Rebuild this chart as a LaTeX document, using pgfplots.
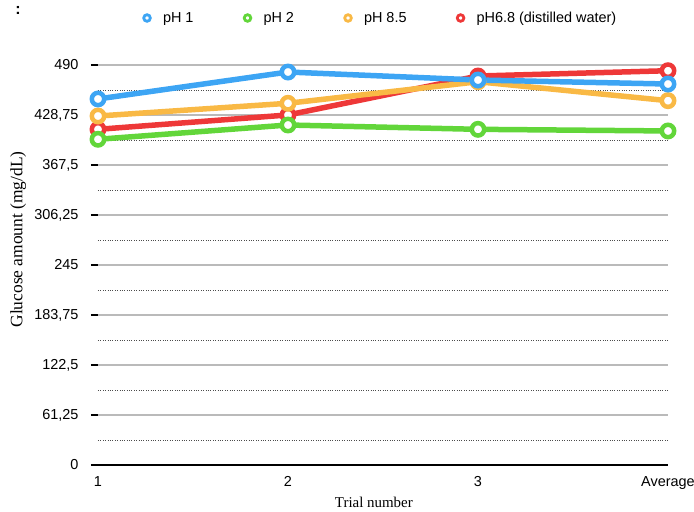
\documentclass[border=0pt]{standalone}
\usepackage{pgfplots}
\pgfplotsset{compat=1.18}
\usepackage{fontspec}
\setmainfont{Liberation Sans}
\newfontfamily\seriffont{Liberation Serif}
\definecolor{cBlue}{HTML}{3DA5F4}
\definecolor{cGreen}{HTML}{62D63A}
\definecolor{cOrange}{HTML}{F9B945}
\definecolor{cRed}{HTML}{EE3838}
\tikzset{ser/.style={line width=5.5bp, mark=*, mark size=6.2bp, mark options={fill=white, line width=4.5bp, solid}}}
\begin{document}
\begin{tikzpicture}[x=1bp,y=1bp]
\path[use as bounding box] (-98bp,-47bp) rectangle (596bp,465bp);
\node[font=\fontsize{16}{16}\selectfont\bfseries] at (-80bp,455bp) {:};
\begin{axis}[
  scale only axis,
  width=570bp, height=400bp,
  at={(0,0)}, anchor=south west,
  xmin=0, xmax=3, ymin=0, ymax=490,
  axis x line=bottom, axis y line=left,
  y axis line style={draw=none},
  x axis line style={black, line width=1.6bp, -, shorten <=-5bp},
  xtick={0,1,2,3},
  xticklabels={1,2,3,Average},
  xtick style={draw=none},
  ytick={0,61.25,122.5,183.75,245,306.25,367.5,428.75,490},
  yticklabels={0,{61,25},{122,5},{183,75},245,{306,25},{367,5},{428,75},490},
  minor ytick={30.625,91.875,153.125,214.375,275.625,336.875,398.125,459.375},
  yminorgrids,
  minor grid style={draw=black!70, dotted, line width=0.7bp},
  extra y ticks={61.25,122.5,183.75,245,306.25,367.5,428.75,490},
  extra y tick labels={},
  extra y tick style={grid=major, major grid style={draw=black!27, line width=1.2bp, solid}, major tick length=0bp},
  ytick style={black, line width=1.3bp},
  major tick length=7bp, minor tick length=0bp,
  tick align=outside,
  tick label style={font=\fontsize{14.5}{15}\selectfont},
  yticklabel style={anchor=east, xshift=-9bp},
  xticklabel style={yshift=-1bp},
  xlabel={\seriffont Trial number},
  ylabel={\seriffont Glucose amount (mg/dL)},
  xlabel style={font=\fontsize{15}{15}\selectfont, at={(axis description cs:0.484,-0.0925)}, anchor=center},
  ylabel style={font=\fontsize{17.5}{17.5}\selectfont, at={(axis description cs:-0.140,0.564)}, anchor=center},
  clip=false,
  legend columns=4,
  legend style={at={(axis description cs:0.495,1.1175)}, anchor=center, draw=none, fill=none,
    font=\fontsize{14.5}{15}\selectfont,
    /tikz/every even column/.append style={column sep=47bp}},
  legend image code/.code={\draw[line width=2.8bp, fill=white] (0,0) circle (3.3bp); \path[draw=none] (-5bp,0) -- (14bp,0);},
]
\addlegendimage{cBlue}\addlegendentry{pH 1}
\addlegendimage{cGreen}\addlegendentry{pH 2}
\addlegendimage{cOrange}\addlegendentry{pH 8.5}
\addlegendimage{cRed}\addlegendentry{pH6.8 (distilled water)}
\addplot[cRed, ser, forget plot] coordinates {(0,411.2) (1,428.8) (2,476.5) (3,483)};
\addplot[cOrange, ser, forget plot] coordinates {(0,427.5) (1,443.1) (2,469.5) (3,446.3)};
\addplot[cGreen, ser, forget plot] coordinates {(0,399) (1,416.5) (2,411.2) (3,409.2)};
\addplot[cBlue, ser, forget plot] coordinates {(0,448.4) (1,481.4) (2,471.6) (3,466.7)};
\end{axis}
\end{tikzpicture}
\end{document}
